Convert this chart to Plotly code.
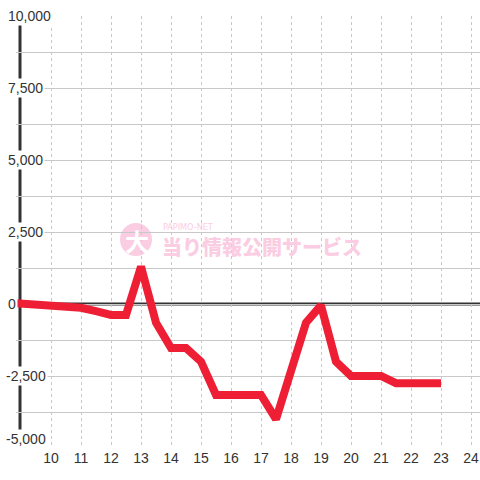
import plotly.graph_objects as go

# data (hour, value)
hours = [8.83, 10, 10.5, 11, 11.5, 12, 12.5, 13, 13.5, 14, 14.5, 15, 15.5, 16, 16.5, 17,
         17.5, 18, 18.5, 19, 19.5, 20, 20.5, 21, 21.5, 22, 22.5, 23]
values = [30, -60, -110, -130, -250, -380, -380, 1300, -650, -1530, -1530, -2000, -3160, -3160, -3160, -3160,
          -4000, -2250, -650, -50, -2000, -2500, -2500, -2500, -2750, -2750, -2750, -2750]
x_ticks = list(range(10, 25))
y_label_vals = [10000, 7500, 5000, 2500, 0, -2500, -5000]
y_label_text = ["10,000", "7,500", "5,000", "2,500", "0", "-2,500", "-5,000"]

W, H = 480, 480
ML, MR, MT, MB = 16, 0, 16, 32
PW, PH = W - ML - MR, H - MT - MB

def px(x):
    return (x - ML) / PW

def py(y):
    return (H - MB - y) / PH

FONT = "Liberation Sans, Arial, sans-serif"
RED = "#ee1f35"
PINK = "#fbcde2"

fig = go.Figure()
fig.add_trace(go.Scatter(x=hours, y=values, mode="lines",
                         line=dict(color=RED, width=8), hoverinfo="skip"))

shapes = [
    dict(type="line", xref="paper", yref="y", x0=px(20), x1=px(20), y0=-5000, y1=10000,
         line=dict(color="#333333", width=3), layer="between"),
    dict(type="line", xref="paper", yref="y", x0=px(20), x1=1, y0=0, y1=0,
         line=dict(color="#333333", width=3), layer="between"),
    dict(type="circle", xref="paper", yref="paper",
         x0=px(120), x1=px(152), y0=py(256), y1=py(223),
         fillcolor=PINK, line=dict(width=0), layer="between"),
]

annotations = []
for v, t in zip(y_label_vals, y_label_text):
    annotations.append(dict(x=px(4 if t.startswith("-") else 6), xref="paper", y=v, yref="y",
                            text=t, showarrow=False, xanchor="left",
                            yanchor="bottom" if v == -5000 else "middle",
                            yshift=-1 if v == -5000 else 0,
                            font=dict(family=FONT, size=14, color="#333333"),
                            bgcolor="white", borderpad=1))
annotations += [
    dict(x=px(137), y=py(241), xref="paper", yref="paper", text="<b>大</b>", showarrow=False,
         font=dict(family="Noto Sans CJK JP", size=24, color="white", weight=900), xanchor="center", yanchor="middle"),
    dict(x=px(161), y=py(227), xref="paper", yref="paper", text="PAPIMO-NET", showarrow=False,
         font=dict(family="DejaVu Sans Condensed, DejaVu Sans", size=9, color=PINK), xanchor="left", yanchor="middle"),
    dict(x=px(160), y=py(246), xref="paper", yref="paper", text="当り情報公開サービス", showarrow=False,
         font=dict(family="Noto Sans CJK JP", size=20, color=PINK, weight=900), xanchor="left", yanchor="middle"),
]

fig.update_layout(
    width=W, height=H, margin=dict(l=ML, r=MR, t=MT, b=MB),
    paper_bgcolor="white", plot_bgcolor="white", showlegend=False,
    shapes=shapes, annotations=annotations,
    xaxis=dict(range=[8.833, 24.3], tickvals=x_ticks, ticktext=[str(t) for t in x_ticks],
               showgrid=True, gridcolor="#c8c8c8", griddash="3px,3px", gridwidth=1,
               zeroline=False, showline=False, ticks="", fixedrange=True,
               tickfont=dict(family=FONT, size=14, color="#333333")),
    yaxis=dict(range=[-5000, 10000], dtick=1250, tick0=0, showticklabels=False,
               showgrid=True, gridcolor="#c8c8c8", gridwidth=1,
               zeroline=False, showline=False, ticks="", fixedrange=True),
)

fig.write_html("out.html", config={"displayModeBar": False},
               post_script="document.body.style.margin='0';document.body.style.overflow='hidden';")
